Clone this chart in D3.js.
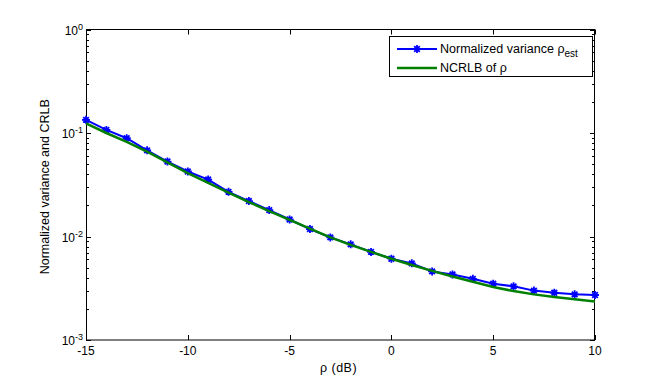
<!DOCTYPE html>
<html>
<head>
<meta charset="utf-8">
<script src="https://cdn.jsdelivr.net/npm/d3@7"></script>
<style>
  body { margin: 0; background: #fff; }
  text { font-family: Arial, "Liberation Sans", sans-serif; fill: #000; }
</style>
</head>
<body>
<div id="chart"></div>
<script>
// data
var snr = d3.range(-15, 11);
var varEst = [0.134, 0.107, 0.089, 0.068, 0.053, 0.0425, 0.0355, 0.027, 0.022, 0.018,
  0.0146, 0.0118, 0.0098, 0.0084, 0.0071, 0.0061, 0.0055, 0.0046, 0.0043, 0.0039,
  0.0035, 0.0033, 0.0030, 0.00286, 0.00276, 0.00272];
var ncrlb = [0.124, 0.100, 0.082, 0.066, 0.052, 0.041, 0.033, 0.0265, 0.0215, 0.0176,
  0.0145, 0.0119, 0.0098, 0.0083, 0.0071, 0.0061, 0.0053, 0.00465, 0.0041, 0.00365,
  0.00325, 0.00297, 0.00276, 0.0026, 0.00247, 0.00236];
var xTicks = [-15, -10, -5, 0, 5, 10];
var yExps = [-3, -2, -1, 0];

var W = 658, H = 382;
var pL = 86, pR = 595, pT = 29.5, pB = 340;

var svg = d3.select("#chart").append("svg")
  .attr("width", W)
  .attr("height", H);

var x = d3.scaleLinear().domain([-15, 10]).range([pL, pR]);
var y = d3.scaleLog().domain([1e-3, 1]).range([pB, pT]);

//ticks, inward on all four sides
var g = svg.append("g").attr("stroke", "#000").attr("stroke-width", 1);
xTicks.forEach(function(t) {
  var px = Math.round(x(t)) + 0.5;
  g.append("line").attr("x1", px).attr("x2", px).attr("y1", pB).attr("y2", pB - 5);
  g.append("line").attr("x1", px).attr("x2", px).attr("y1", pT).attr("y2", pT + 5);
});
yExps.forEach(function(e) {
  for (var m = 1; m <= 9; m++) {
    var v = m * Math.pow(10, e);
    if (v > 1) break;
    var py = Math.round(y(v)) + 0.5;
    var len = m == 1 ? 5 : 3;
    g.append("line").attr("x1", pL).attr("x2", pL + len).attr("y1", py).attr("y2", py);
    g.append("line").attr("x1", pR).attr("x2", pR - len).attr("y1", py).attr("y2", py);
  }
});

g.append("rect")
  .attr("x", pL + 0.5).attr("y", pT)
  .attr("width", pR - pL - 1).attr("height", pB - pT)
  .attr("fill", "none");

//tick labels
xTicks.forEach(function(t) {
  svg.append("text")
    .attr("x", x(t)).attr("y", 355)
    .attr("text-anchor", "middle")
    .attr("font-size", 12)
    .text(t < 0 ? "-" + Math.abs(t) : t);
});
yExps.forEach(function(e) {
  var t = svg.append("text")
    .attr("x", pL - 3).attr("y", y(Math.pow(10, e)) + 5)
    .attr("text-anchor", "end")
    .attr("font-size", 12);
  t.append("tspan").text("10");
  t.append("tspan").attr("dy", -5).attr("font-size", 9).text(e);
});

//axis labels
svg.append("text")
  .attr("x", (pL + pR) / 2 - 2).attr("y", 372)
  .attr("text-anchor", "middle")
  .attr("font-size", 12.5)
  .attr("letter-spacing", 0.5)
  .text("ρ (dB)");
svg.append("text")
  .attr("transform", "translate(49," + ((pT + pB) / 2 + 2) + ") rotate(-90)")
  .attr("text-anchor", "middle")
  .attr("font-size", 12.5)
  .text("Normalized variance and CRLB");

//lines
var line = d3.line()
  .x(function(d) { return x(d[0]); })
  .y(function(d) { return y(d[1]); });

var green = "#008000", blue = "#0000ff";

svg.append("path")
  .datum(d3.zip(snr, varEst))
  .attr("d", line)
  .attr("fill", "none")
  .attr("stroke", blue)
  .attr("stroke-width", 2);

function star(s) {
  var d = s * 0.7;
  return "M" + (-s) + ",0L" + s + ",0M0," + (-s) + "L0," + s +
    "M" + (-d) + "," + (-d) + "L" + d + "," + d +
    "M" + (-d) + "," + d + "L" + d + "," + (-d);
}

svg.selectAll("path.mark")
  .data(d3.zip(snr, varEst))
  .enter().append("path")
  .attr("class", "mark")
  .attr("transform", function(d) { return "translate(" + x(d[0]) + "," + y(d[1]) + ")"; })
  .attr("d", star(4))
  .attr("stroke", blue)
  .attr("stroke-width", 1.8);

svg.append("path")
  .datum(d3.zip(snr, ncrlb))
  .attr("d", line)
  .attr("fill", "none")
  .attr("stroke", green)
  .attr("stroke-width", 2.5);

//legend
var lg = svg.append("g");
lg.append("rect")
  .attr("x", 389.5).attr("y", 36.5)
  .attr("width", 203).attr("height", 40)
  .attr("fill", "#fff").attr("stroke", "#000");
lg.append("line")
  .attr("x1", 397).attr("x2", 437).attr("y1", 49).attr("y2", 49)
  .attr("stroke", blue).attr("stroke-width", 2);
lg.append("path")
  .attr("transform", "translate(417,49)")
  .attr("d", star(4))
  .attr("stroke", blue).attr("stroke-width", 1.8);
lg.append("line")
  .attr("x1", 397).attr("x2", 437).attr("y1", 68).attr("y2", 68)
  .attr("stroke", green).attr("stroke-width", 2.5);

var t1 = lg.append("text").attr("x", 440).attr("y", 53).attr("font-size", 12.5);
t1.append("tspan").text("Normalized variance ρ");
t1.append("tspan").attr("dy", 4).attr("font-size", 10).text("est");
lg.append("text").attr("x", 440).attr("y", 72).attr("font-size", 12.5).text("NCRLB of ρ");
</script>
</body>
</html>
